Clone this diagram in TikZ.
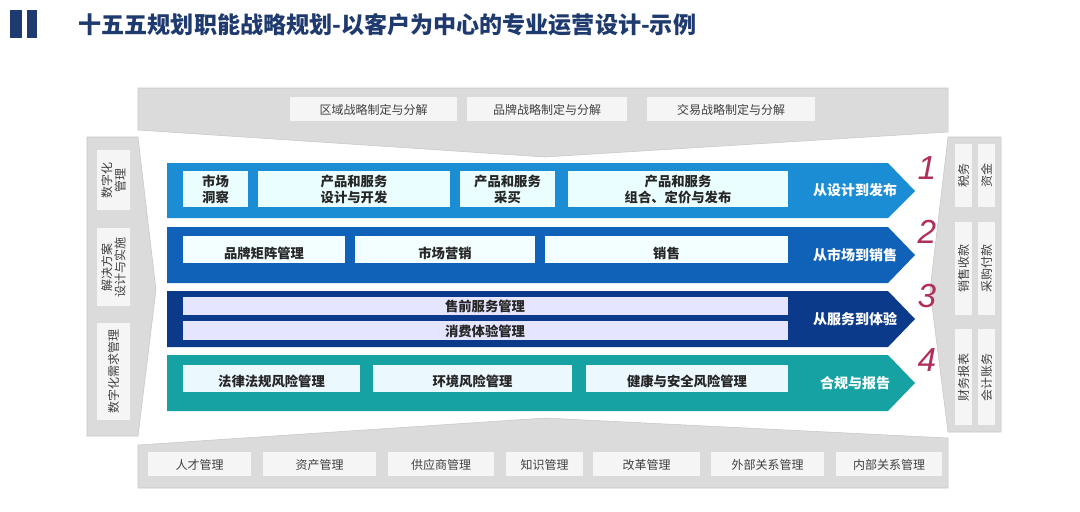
\documentclass[tikz,border=0pt]{standalone}
\usepackage{fontspec}
\setmainfont{Noto Sans CJK SC}
\newfontfamily\numfont{Liberation Sans}
\begin{document}
\begin{tikzpicture}[x=0.75pt,y=-0.75pt,
  gshape/.style={fill=black!14,draw=black!22},
  gbox/.style={fill=black!4,draw=none},
  gt/.style={font=\fontsize{9}{10}\selectfont,text=black!75},
  ibox/.style={draw=none},
  bt/.style={font=\bfseries\fontsize{10}{12}\selectfont,text=black!85,align=center},
  wt/.style={font=\bfseries\fontsize{10.5}{12}\selectfont,text=white},
  num/.style={font=\numfont\itshape\fontsize{25}{25}\selectfont,text=numc}]
\useasboundingbox (0,0) rectangle (1080,511);
\definecolor{c1}{HTML}{1A8DD5}\definecolor{c2}{HTML}{0F62B8}
\definecolor{c3}{HTML}{0B3A8A}\definecolor{c4}{HTML}{16A2A3}
\definecolor{tb}{HTML}{1E3A6E}\definecolor{numc}{HTML}{B0305A}
% title
\fill[tb] (10,10) rectangle (22,38);
\fill[tb] (27,10) rectangle (37,38);
\node[anchor=west,text=tb,font=\bfseries\fontsize{17.3}{19}\selectfont] (title) at (74,25) {十五五规划职能战略规划-以客户为中心的专业运营设计-示例};
% top gray
\draw[gshape] (138,88) -- (948,88) -- (948,132) -- (545,157) -- (138,130) -- cycle;
\foreach \a/\b/\t [count=\i] in {290/457/区域战略制定与分解,467/627/品牌战略制定与分解,647/815/交易战略制定与分解}
  {\fill[gbox] (\a,97) rectangle (\b,121); \node[gt] (top\i) at ({(\a+\b)/2},110) {\t};}
% bottom gray
\draw[gshape] (138,445) -- (545,418) -- (948,438) -- (948,488) -- (138,488) -- cycle;
\foreach \a/\b/\t [count=\i] in {148/251/人才管理,263/376/资产管理,388/494/供应商管理,506/583/知识管理,593/700/改革管理,711/824/外部关系管理,836/942/内部关系管理}
  {\fill[gbox] (\a,452) rectangle (\b,476); \node[gt] (bot\i) at ({(\a+\b)/2},465) {\t};}
% left gray
\draw[gshape] (87,137) -- (138,137) -- (156,290) -- (138,436) -- (87,436) -- cycle;
\fill[gbox] (97,150) rectangle (130,210); \node[gt,rotate=90,align=center] (l1) at (113.5,180) {数字化\\管理};
\fill[gbox] (97,228) rectangle (130,306); \node[gt,rotate=90,align=center] (l2) at (113.5,267) {解决方案\\设计与实施};
\fill[gbox] (97,323) rectangle (130,420); \node[gt,rotate=90] (l3) at (113.5,371) {数字化需求管理};
% right gray
\draw[gshape] (948,137) -- (1001,137) -- (1001,432) -- (948,432) -- (930,290) -- cycle;
\foreach \ya/\yb/\ta/\tb [count=\i] in {144/207/税务/资金,222/315/销售收款/采购付款,329/425/财务报表/会计账务}
  {\fill[gbox] (955,\ya) rectangle (972,\yb); \fill[gbox] (978,\ya) rectangle (995,\yb);
   \node[gt,rotate=90] (ra\i) at (963.5,{(\ya+\yb)/2}) {\ta};
   \node[gt,rotate=90] (rb\i) at (986.5,{(\ya+\yb)/2}) {\tb};}
% bands
\fill[c1] (167,163) -- (888,163) -- (915,191) -- (888,218) -- (167,218) -- cycle;
\fill[c2] (167,227) -- (888,227) -- (915,255) -- (888,283) -- (167,283) -- cycle;
\fill[c3] (167,291) -- (888,291) -- (915,319) -- (888,347) -- (167,347) -- cycle;
\fill[c4] (167,355) -- (888,355) -- (915,383) -- (888,411) -- (167,411) -- cycle;
\foreach \a/\b/\t [count=\i] in {183/248/市场\\洞察,258/450/产品和服务\\设计与开发,460/555/产品和服务\\采买,568/788/产品和服务\\组合、定价与发布}
  {\fill[blue!6!cyan!8] (\a,171) rectangle (\b,207); \node[bt] (r1\i) at ({(\a+\b)/2},189) {\t};}
\foreach \a/\b/\t [count=\i] in {183/345/品牌矩阵管理,355/535/市场营销,545/788/销售}
  {\fill[blue!6!cyan!5] (\a,236) rectangle (\b,263); \node[bt] (r2\i) at ({(\a+\b)/2},253) {\t};}
\fill[blue!10] (183,297) rectangle (788,315); \node[bt] (r31) at (485,306) {售前服务管理};
\fill[blue!10] (183,321) rectangle (788,340); \node[bt] (r32) at (485,331) {消费体验管理};
\foreach \a/\b/\t [count=\i] in {183/360/法律法规风险管理,373/572/环境风险管理,586/788/健康与安全风险管理}
  {\fill[cyan!8] (\a,365) rectangle (\b,392); \node[bt] (r4\i) at ({(\a+\b)/2},381) {\t};}
\node[wt] (s1) at (855,190) {从设计到发布};
\node[wt] (s2) at (855,255) {从市场到销售};
\node[wt] (s3) at (855,319) {从服务到体验};
\node[wt] (s4) at (855,383) {合规与报告};
\node[num] (n1) at (927,168) {1};
\node[num] (n2) at (927,232) {2};
\node[num] (n3) at (927,296) {3};
\node[num] (n4) at (927,360) {4};
\end{tikzpicture}
\end{document}
